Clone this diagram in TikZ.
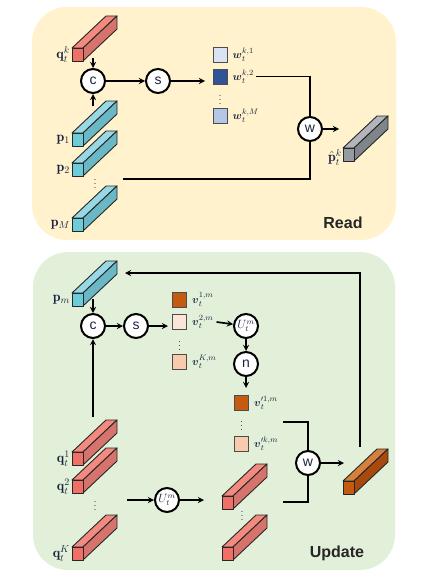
\documentclass[tikz,border=0pt]{standalone}
\usepackage{amsmath}
\usepackage{fontspec}
\setsansfont{Liberation Sans}
\usepackage{tikz}
\usetikzlibrary{arrows,positioning}

\definecolor{readbg}{RGB}{255,242,204}
\definecolor{updbg}{RGB}{226,240,217}
\definecolor{ink}{RGB}{28,36,64}
\definecolor{wA}{RGB}{218,227,243}
\definecolor{wB}{RGB}{47,85,151}
\definecolor{wC}{RGB}{180,199,231}
\definecolor{vA}{RGB}{197,90,17}
\definecolor{vB}{RGB}{251,229,214}
\definecolor{vC}{RGB}{248,203,173}
\definecolor{redF}{RGB}{240,112,104}
\definecolor{redT}{RGB}{243,138,128}
\definecolor{redS}{RGB}{214,115,108}
\definecolor{cyanF}{RGB}{108,204,218}
\definecolor{cyanT}{RGB}{152,216,228}
\definecolor{cyanS}{RGB}{106,183,198}
\definecolor{greyF}{RGB}{150,155,160}
\definecolor{greyT}{RGB}{178,182,186}
\definecolor{greyS}{RGB}{128,133,138}
\definecolor{orgF}{RGB}{197,90,17}
\definecolor{orgT}{RGB}{214,128,64}
\definecolor{orgS}{RGB}{168,74,14}

\tikzset{
  op/.style={circle, draw=black, line width=2pt, fill=white, minimum size=24pt,
    inner sep=0pt, font=\sffamily\fontsize{14}{14}\selectfont, text=ink},
  arr/.style={->, >=stealth, line width=1.7pt},
  wire/.style={line width=1.7pt},
  barline/.style={draw=black!85, line width=0.9pt, line join=round},
  barface/.style={barline, minimum width=11pt, minimum height=13pt, inner sep=0pt},
  cell/.style={draw=black!70, line width=0.9pt, minimum width=14pt, minimum height=15pt, inner sep=0pt},
  slbl/.style={text=ink, font=\fontsize{11}{11}\selectfont, inner sep=1pt},
  blbl/.style={text=ink, font=\fontsize{14}{14}\selectfont, inner sep=0.5pt},
  title/.style={font=\sffamily\bfseries\fontsize{16}{16}\selectfont, text=black!85}
}

% name, x, y of the front face, colour set
\newcommand{\cuboid}[4]{%
  \filldraw[barline, fill=#4T] (#2,#3) -- ++(34,-32) -- ++(11,0) -- ++(-34,32) -- cycle;
  \filldraw[barline, fill=#4S] (#2+11,#3) -- ++(34,-32) -- ++(0,13) -- ++(-34,32) -- cycle;
  \node[barface, fill=#4F] (#1) at (#2+5.5,#3+6.5) {};
}

\begin{document}
\begin{tikzpicture}[x=1pt,y=-1pt]
      \useasboundingbox (0,0) rectangle (437,578);
      \fill[readbg, rounded corners=35pt] (32,7) rectangle (396,240);
      \fill[updbg, rounded corners=35pt] (33,252) rectangle (395,570);

      % read
      \cuboid{qk}{72}{48}{red}
      \cuboid{p1}{72}{133}{cyan}
      \cuboid{p2}{72}{163}{cyan}
      \cuboid{pM}{72}{218}{cyan}
      \cuboid{phat}{343}{148}{grey}

      \node[blbl, left=1pt of qk] {$\mathbf{q}_t^k$};
      \node[blbl, left=1pt of p1] {$\mathbf{p}_1$};
      \node[blbl, left=1pt of p2] {$\mathbf{p}_2$};
      \node[blbl, left=1pt of pM] {$\mathbf{p}_M$};
      \node[blbl, left=0pt of phat, yshift=-3pt] {$\hat{\mathbf{p}}_t^k$};
      \node[slbl] (pdots) at (95,181) {$\vdots$};

      \node[op] (c1) at (93,81) {c};
      \node[op] (s1) at (158,81) {s};
      \node[op] (w1) at (310,129) {w};

      \node[cell, fill=wA] (wa) at (220,54.5) {};
      \node[cell, fill=wB] (wb) at (220,76.5) {};
      \node[cell, fill=wC] (wc) at (220,116) {};
      \node[slbl] (wdots) at (220,97) {$\vdots$};
      \node[slbl, right=4pt of wa] (wa-lbl) {$\boldsymbol{w}_t^{k,1}$};
      \node[slbl, right=4pt of wb] (wb-lbl) {$\boldsymbol{w}_t^{k,2}$};
      \node[slbl, right=4pt of wc] (wc-lbl) {$\boldsymbol{w}_t^{k,M}$};

      \coordinate (qk-out) at (93,58);
      \coordinate (p1-out) at (93,106);
      \coordinate (wcol) at (205,81);
      \coordinate (pM-out) at (123,179);
      \coordinate (phat-in) at (339,129);

      \draw[arr] (qk-out) -- (c1);
      \draw[arr] (p1-out) -- (c1);
      \draw[arr] (c1) -- (s1);
      \draw[arr] (s1) -- (wcol);
      \draw[wire] ([xshift=1pt]wb-lbl.east) -| (w1);
      \draw[wire] (pM-out) -| (w1);
      \draw[arr] (w1) -- (phat-in);

      \node[title] at (343,223) {Read};

      % update
      \cuboid{pm}{72}{293}{cyan}
      \cuboid{q1}{72}{452}{red}
      \cuboid{q2}{72}{480}{red}
      \cuboid{qK}{72}{547}{red}
      \cuboid{ra}{222}{496}{red}
      \cuboid{rb}{222}{547}{red}
      \cuboid{upd}{343}{481}{org}

      \node[blbl, left=1pt of pm] {$\mathbf{p}_m$};
      \node[blbl, left=1pt of q1] {$\mathbf{q}_t^1$};
      \node[blbl, left=1pt of q2] {$\mathbf{q}_t^2$};
      \node[blbl, left=1pt of qK] {$\mathbf{q}_t^K$};
      \node[slbl] (qdots) at (95,503) {$\vdots$};
      \node[slbl] (rdots) at (242,513) {$\vdots$};

      \node[op] (c2) at (93,326) {c};
      \node[op] (s2) at (136,326) {s};
      \node[op, font=\fontsize{12}{12}\selectfont] (U1) at (246,326) {$U_t^m$};
      \node[op] (nrm) at (246,364) {n};
      \node[op, font=\fontsize{12}{12}\selectfont] (U2) at (167,500) {$U_t^m$};
      \node[op] (w2) at (308,463) {w};

      \node[cell, fill=vA] (va) at (179.5,299.5) {};
      \node[cell, fill=vB] (vb) at (179.5,322) {};
      \node[cell, fill=vC] (vc) at (179.5,362) {};
      \node[slbl] (vdots) at (179.5,343) {$\vdots$};
      \node[slbl, right=4pt of va] (va-lbl) {$\boldsymbol{v}_t^{1,m}$};
      \node[slbl, right=4pt of vb] (vb-lbl) {$\boldsymbol{v}_t^{2,m}$};
      \node[slbl, right=4pt of vc] (vc-lbl) {$\boldsymbol{v}_t^{K,m}$};

      \node[cell, fill=vA] (na) at (241.5,403) {};
      \node[cell, fill=vC] (nb) at (241.5,443.5) {};
      \node[slbl] (ndots) at (241.5,423) {$\vdots$};
      \node[slbl, right=4pt of na] (na-lbl) {$\boldsymbol{v}_t^{\prime 1,m}$};
      \node[slbl, right=4pt of nb] (nb-lbl) {$\boldsymbol{v}_t^{\prime k,m}$};

      \coordinate (pm-out) at (93,299);
      \coordinate (pm-in) at (125,273);
      \coordinate (q1-out) at (93,417);
      \coordinate (vcol) at (168,326);
      \coordinate (ncol) at (246,388);
      \coordinate (qs-out) at (127,500);
      \coordinate (rcol) at (204,500);
      \coordinate (nsum-in) at (283,422);
      \coordinate (rsum-in) at (283,502);
      \coordinate (upd-in) at (344,463);
      \coordinate (upd-out) at (360,447);

      \draw[arr] (pm-out) -- (c2);
      \draw[arr] (q1-out) -- (c2);
      \draw[arr] (c2) -- (s2);
      \draw[arr] (s2) -- (vcol);
      \draw[arr] ([xshift=2pt]vb-lbl.east) -- (U1);
      \draw[arr] (U1) -- (nrm);
      \draw[arr] (nrm) -- (ncol);
      \draw[arr] (qs-out) -- (U2);
      \draw[arr] (U2) -- (rcol);
      \draw[wire] (nsum-in) -| (w2);
      \draw[wire] (rsum-in) -| (w2);
      \draw[arr] (w2) -- (upd-in);
      \draw[arr] (upd-out) |- (pm-in);

      \node[title] at (337,553) {Update};
\end{tikzpicture}
\end{document}
